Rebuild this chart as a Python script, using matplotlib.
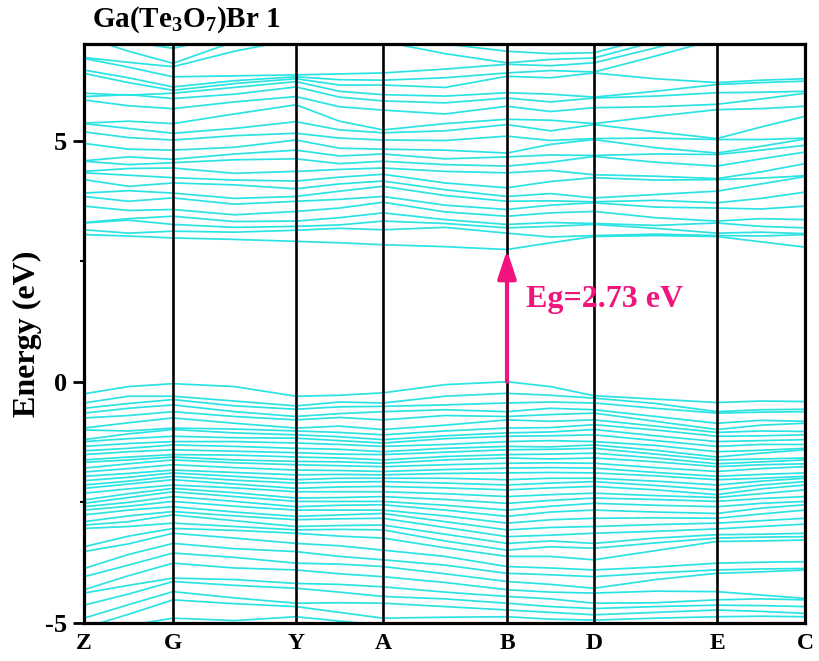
import matplotlib.pyplot as plt

# high-symmetry points along the k path (positions)
k_labels = ['Z', 'G', 'Y', 'A', 'B', 'D', 'E', 'C']
k_nodes = [0.0, 0.89, 2.12, 2.99, 4.23, 5.10, 6.33, 7.21]

# band energies (eV) at Z, Z-G, G, G-Y, Y, Y-A, A, A-B, B, B-D, D, D-E, E, E-C, C
conduction = [
    [3.05, 3.02, 2.98, 2.95, 2.91, 2.88, 2.84, 2.80, 2.74, 2.88, 3.01, 3.03, 3.01, 2.90, 2.79],
    [3.15, 3.08, 3.12, 3.10, 3.14, 3.18, 3.15, 3.20, 3.08, 3.00, 3.03, 3.06, 3.03, 3.02, 3.05],
    [3.29, 3.35, 3.26, 3.20, 3.22, 3.25, 3.33, 3.28, 3.19, 3.22, 3.26, 3.18, 3.08, 3.10, 3.07],
    [3.30, 3.38, 3.43, 3.32, 3.33, 3.40, 3.50, 3.36, 3.26, 3.30, 3.28, 3.24, 3.29, 3.22, 3.19],
    [3.64, 3.55, 3.57, 3.46, 3.53, 3.60, 3.72, 3.52, 3.43, 3.50, 3.53, 3.40, 3.33, 3.38, 3.36],
    [3.84, 3.74, 3.81, 3.68, 3.74, 3.78, 3.84, 3.66, 3.57, 3.66, 3.71, 3.62, 3.60, 3.58, 3.64],
    [3.91, 3.96, 3.91, 3.80, 3.84, 3.95, 4.05, 3.86, 3.74, 3.75, 3.73, 3.76, 3.71, 3.80, 3.93],
    [4.19, 4.05, 4.12, 4.08, 4.00, 4.10, 4.16, 3.98, 3.84, 3.90, 3.81, 3.88, 3.95, 4.10, 4.25],
    [4.33, 4.28, 4.23, 4.18, 4.16, 4.24, 4.30, 4.12, 4.02, 4.15, 4.23, 4.18, 4.19, 4.22, 4.27],
    [4.36, 4.42, 4.43, 4.32, 4.36, 4.40, 4.43, 4.36, 4.33, 4.38, 4.29, 4.26, 4.21, 4.35, 4.52],
    [4.57, 4.50, 4.54, 4.60, 4.62, 4.52, 4.57, 4.50, 4.47, 4.55, 4.67, 4.55, 4.47, 4.62, 4.76],
    [4.58, 4.66, 4.61, 4.72, 4.80, 4.68, 4.72, 4.62, 4.66, 4.70, 4.69, 4.72, 4.71, 4.80, 4.90],
    [4.94, 4.82, 4.80, 4.86, 5.01, 4.84, 4.82, 4.80, 4.74, 4.92, 5.02, 4.85, 4.74, 4.88, 5.03],
    [5.18, 5.06, 5.01, 5.10, 5.15, 5.05, 5.01, 5.00, 5.09, 5.00, 5.04, 5.05, 5.02, 5.02, 5.05],
    [5.35, 5.25, 5.15, 5.25, 5.39, 5.22, 5.16, 5.20, 5.33, 5.20, 5.33, 5.18, 5.04, 5.28, 5.50],
    [5.36, 5.40, 5.35, 5.55, 5.74, 5.40, 5.22, 5.35, 5.44, 5.42, 5.35, 5.50, 5.64, 5.66, 5.71],
    [5.84, 5.72, 5.66, 5.80, 5.91, 5.70, 5.63, 5.55, 5.71, 5.60, 5.68, 5.70, 5.75, 5.86, 5.98],
    [5.91, 5.95, 5.87, 5.96, 6.11, 5.90, 5.82, 5.78, 5.88, 5.80, 5.88, 5.92, 5.99, 6.00, 6.02],
    [5.98, 5.94, 5.98, 6.10, 6.22, 6.02, 5.95, 5.92, 5.99, 5.96, 5.90, 6.02, 6.16, 6.20, 6.23],
    [6.39, 6.20, 6.04, 6.18, 6.28, 6.15, 6.15, 6.10, 6.33, 6.30, 6.40, 6.28, 6.20, 6.25, 6.28],
    [6.46, 6.30, 6.11, 6.24, 6.32, 6.26, 6.25, 6.30, 6.40, 6.45, 6.42, 6.75, 7.10, 7.15, 7.20],
    [6.70, 6.52, 6.32, 6.34, 6.36, 6.38, 6.40, 6.48, 6.58, 6.55, 6.61, 6.92, 7.25, 7.30, 7.35],
    [6.72, 6.62, 6.53, 6.85, 7.10, 7.15, 7.05, 6.80, 6.61, 6.68, 6.71, 7.05, 7.40, 7.45, 7.50],
    [7.15, 6.85, 6.60, 7.05, 7.30, 7.35, 7.20, 7.00, 6.85, 6.80, 6.82, 7.15, 7.55, 7.60, 7.65],
    [7.30, 7.05, 6.91, 7.20, 7.50, 7.55, 7.40, 7.20, 7.05, 7.00, 6.99, 7.30, 7.70, 7.75, 7.80],
]

valence = [
    [-0.25, -0.10, -0.04, -0.10, -0.30, -0.28, -0.23, -0.06, 0.00, -0.10, -0.29, -0.36, -0.43, -0.40, -0.41],
    [-0.44, -0.30, -0.30, -0.40, -0.50, -0.42, -0.44, -0.30, -0.24, -0.28, -0.34, -0.45, -0.62, -0.58, -0.57],
    [-0.55, -0.45, -0.37, -0.50, -0.57, -0.52, -0.51, -0.48, -0.44, -0.42, -0.44, -0.55, -0.65, -0.63, -0.62],
    [-0.65, -0.55, -0.48, -0.62, -0.72, -0.66, -0.62, -0.58, -0.62, -0.55, -0.58, -0.72, -0.86, -0.80, -0.82],
    [-0.75, -0.70, -0.62, -0.72, -0.79, -0.74, -0.79, -0.70, -0.72, -0.68, -0.65, -0.82, -0.99, -0.90, -0.86],
    [-0.96, -0.85, -0.75, -0.86, -0.96, -0.92, -0.99, -0.90, -0.79, -0.82, -0.79, -0.92, -1.05, -1.02, -1.03],
    [-1.00, -1.02, -0.96, -0.98, -1.02, -1.05, -1.10, -1.02, -0.96, -0.95, -0.89, -1.00, -1.13, -1.12, -1.10],
    [-1.20, -1.08, -0.99, -1.06, -1.10, -1.14, -1.20, -1.12, -1.06, -1.04, -0.99, -1.12, -1.24, -1.22, -1.20],
    [-1.24, -1.18, -1.13, -1.16, -1.17, -1.22, -1.27, -1.18, -1.13, -1.12, -1.10, -1.22, -1.34, -1.30, -1.30],
    [-1.34, -1.28, -1.24, -1.24, -1.27, -1.30, -1.34, -1.30, -1.24, -1.22, -1.24, -1.32, -1.45, -1.42, -1.38],
    [-1.43, -1.38, -1.31, -1.34, -1.38, -1.40, -1.45, -1.38, -1.34, -1.35, -1.31, -1.42, -1.56, -1.48, -1.41],
    [-1.51, -1.45, -1.41, -1.44, -1.47, -1.50, -1.51, -1.46, -1.41, -1.40, -1.38, -1.50, -1.62, -1.60, -1.58],
    [-1.62, -1.56, -1.51, -1.52, -1.56, -1.58, -1.62, -1.55, -1.51, -1.50, -1.48, -1.58, -1.70, -1.66, -1.62],
    [-1.67, -1.62, -1.56, -1.62, -1.65, -1.66, -1.69, -1.62, -1.58, -1.60, -1.58, -1.66, -1.76, -1.72, -1.70],
    [-1.79, -1.70, -1.62, -1.68, -1.72, -1.74, -1.76, -1.72, -1.69, -1.68, -1.69, -1.78, -1.86, -1.80, -1.76],
    [-1.87, -1.80, -1.72, -1.78, -1.83, -1.84, -1.86, -1.82, -1.79, -1.78, -1.79, -1.88, -1.96, -1.92, -1.89],
    [-1.96, -1.90, -1.83, -1.88, -1.93, -1.92, -1.93, -1.90, -1.89, -1.88, -1.89, -1.95, -2.03, -2.00, -1.96],
    [-2.05, -1.98, -1.89, -1.96, -2.03, -2.00, -2.00, -2.00, -2.03, -2.00, -2.00, -2.06, -2.14, -2.06, -2.00],
    [-2.14, -2.06, -1.96, -2.04, -2.10, -2.08, -2.07, -2.10, -2.14, -2.10, -2.07, -2.15, -2.24, -2.14, -2.07],
    [-2.21, -2.12, -2.03, -2.12, -2.21, -2.18, -2.17, -2.20, -2.24, -2.20, -2.17, -2.24, -2.34, -2.22, -2.14],
    [-2.31, -2.22, -2.14, -2.20, -2.28, -2.28, -2.28, -2.32, -2.38, -2.34, -2.31, -2.36, -2.40, -2.32, -2.24],
    [-2.45, -2.32, -2.21, -2.30, -2.41, -2.40, -2.38, -2.44, -2.52, -2.46, -2.41, -2.44, -2.48, -2.42, -2.38],
    [-2.52, -2.40, -2.28, -2.38, -2.48, -2.48, -2.48, -2.56, -2.66, -2.58, -2.52, -2.56, -2.59, -2.52, -2.48],
    [-2.59, -2.50, -2.38, -2.48, -2.59, -2.56, -2.55, -2.66, -2.79, -2.70, -2.66, -2.70, -2.73, -2.62, -2.55],
    [-2.66, -2.58, -2.48, -2.58, -2.66, -2.66, -2.66, -2.78, -2.93, -2.86, -2.83, -2.82, -2.83, -2.74, -2.66],
    [-2.76, -2.66, -2.59, -2.70, -2.79, -2.76, -2.73, -2.90, -3.07, -3.02, -3.00, -2.96, -2.93, -2.88, -2.83],
    [-2.90, -2.78, -2.69, -2.78, -2.86, -2.84, -2.83, -3.02, -3.21, -3.18, -3.14, -3.10, -3.05, -3.00, -2.95],
    [-2.97, -2.90, -2.76, -2.88, -3.00, -2.98, -2.97, -3.16, -3.35, -3.30, -3.35, -3.24, -3.17, -3.16, -3.14],
    [-3.04, -3.00, -2.93, -3.00, -3.07, -3.06, -3.07, -3.30, -3.49, -3.42, -3.45, -3.34, -3.24, -3.22, -3.21],
    [-3.42, -3.20, -3.04, -3.08, -3.14, -3.20, -3.24, -3.44, -3.62, -3.62, -3.69, -3.50, -3.31, -3.30, -3.28],
    [-3.52, -3.36, -3.14, -3.24, -3.35, -3.40, -3.49, -3.62, -3.83, -3.86, -3.90, -3.84, -3.76, -3.74, -3.73],
    [-3.87, -3.58, -3.35, -3.46, -3.52, -3.62, -3.69, -3.80, -3.97, -4.00, -4.04, -3.96, -3.90, -3.88, -3.87],
    [-4.04, -3.80, -3.55, -3.64, -3.76, -3.78, -3.83, -3.98, -4.14, -4.20, -4.28, -4.10, -3.97, -3.94, -3.90],
    [-4.31, -4.02, -3.76, -3.86, -3.90, -3.98, -4.04, -4.16, -4.31, -4.36, -4.38, -4.34, -4.35, -4.42, -4.49],
    [-4.38, -4.22, -4.07, -4.10, -4.18, -4.20, -4.25, -4.36, -4.45, -4.50, -4.59, -4.58, -4.52, -4.50, -4.52],
    [-4.63, -4.40, -4.14, -4.22, -4.28, -4.36, -4.45, -4.50, -4.59, -4.66, -4.70, -4.66, -4.63, -4.64, -4.66],
    [-4.90, -4.62, -4.35, -4.48, -4.59, -4.58, -4.59, -4.66, -4.73, -4.78, -4.83, -4.78, -4.73, -4.76, -4.80],
    [-5.10, -4.82, -4.52, -4.60, -4.66, -4.78, -4.90, -4.88, -4.87, -4.92, -4.94, -4.90, -4.87, -4.86, -4.87],
    [-5.25, -5.05, -4.90, -4.95, -4.87, -4.96, -5.05, -5.02, -5.05, -5.06, -5.10, -5.04, -5.05, -5.02, -5.05],
    [-5.40, -5.25, -5.10, -5.12, -5.10, -5.15, -5.20, -5.18, -5.20, -5.22, -5.25, -5.20, -5.20, -5.22, -5.20],
]

gap_value = 2.73      # eV, arrow drawn at B from VBM to CBM
gap_point = 'B'

band_color = '#2CE3E3'
gap_color = '#F0147C'


def main() -> None:
    plt.rcParams['font.family'] = 'Liberation Serif'
    plt.rcParams['font.weight'] = 'bold'
    plt.rcParams['mathtext.default'] = 'regular'
    plt.rcParams['axes.unicode_minus'] = False

    fig = plt.figure(figsize=(8.19, 6.61), dpi=100)
    ax = fig.add_axes([84 / 819, 1 - 623 / 661, 721 / 819, 579 / 661])

    # k path: each segment has its two ends and one point in the middle
    k_path = []
    for a, b in zip(k_nodes[:-1], k_nodes[1:]):
        k_path += [a, (a + b) / 2]
    k_path.append(k_nodes[-1])

    for band in conduction + valence:
        ax.plot(k_path, band, color=band_color, lw=1.25, zorder=1)

    for x in k_nodes[1:-1]:
        ax.axvline(x, color='black', lw=1.9, zorder=2)

    # band gap arrow
    xb = k_nodes[k_labels.index(gap_point)]
    ax.annotate('', xy=(xb, gap_value), xytext=(xb, 0.0),
                arrowprops=dict(arrowstyle='-|>,head_length=0.85,head_width=0.28',
                                color=gap_color, lw=3, mutation_scale=20,
                                shrinkA=0, shrinkB=0), zorder=3)
    ax.text(xb + 0.19, 1.7, f'Eg={gap_value} eV', color=gap_color,
            fontsize=23, fontweight='bold', va='center', ha='left', zorder=4)

    ax.set_xlim(k_nodes[0], k_nodes[-1])
    ax.set_ylim(-5, 7)
    ax.set_xticks(k_nodes)
    ax.set_xticklabels(k_labels, fontsize=17)
    ax.tick_params(axis='x', length=0, pad=7)
    ax.set_yticks([-5, 0, 5])
    ax.set_yticks([-2.5, 2.5], minor=True)
    ax.tick_params(axis='y', which='major', length=8, width=2, labelsize=19, pad=4)
    ax.tick_params(axis='y', which='minor', length=3, width=1.5)
    ax.set_ylabel('Energy (eV)', fontsize=23, fontweight='bold', labelpad=2)
    for sp in ax.spines.values():
        sp.set_linewidth(2.3)
        sp.set_zorder(5)

    fig.text(92 / 819, 1 - 20 / 661, 'Ga(Te$_3$O$_7$)Br 1', fontsize=21,
             fontweight='bold', ha='left', va='center')

    fig.savefig('out.png', dpi=100)


if __name__ == "__main__":
    main()
